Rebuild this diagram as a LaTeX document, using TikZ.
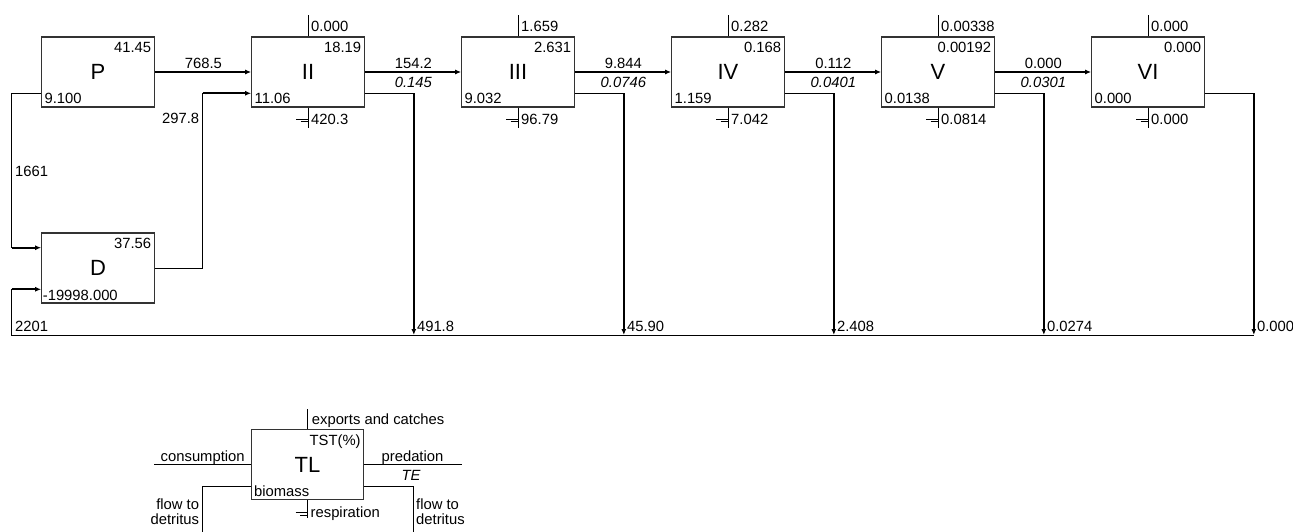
\documentclass[tikz,border=0pt]{standalone}
\usepackage{fontspec}
\setmainfont{Liberation Sans}
\usetikzlibrary{arrows.meta,calc}
\tikzset{
 box/.style={draw=black!80, line width=1.2pt, minimum width=112.5pt, minimum height=70pt, inner sep=0pt, font=\fontsize{22}{24}\selectfont},
 num/.style={inner sep=0pt, font=\fontsize{14.8}{17}\selectfont},
 inum/.style={inner sep=0pt, font=\fontsize{14.8}{17}\selectfont\itshape},
 thinln/.style={line width=1pt},
 flow/.style={line width=2pt, -{Latex[length=6pt,width=5pt]}},
 det/.style={line width=2.4pt, -{Latex[length=6pt,width=5pt]}},
}
\begin{document}
\begin{tikzpicture}[x=1pt,y=-1pt]
\useasboundingbox (0,0) rectangle (1293,532);
\fill[white] (0,0) rectangle (1293,532);
% boxes
\node[box] (P) at (98,72) {P};
\node[box] (II) at (308,72) {II};
\node[box] (III) at (518,72) {III};
\node[box] (IV) at (728,72) {IV};
\node[box] (V) at (938,72) {V};
\node[box] (VI) at (1148,72) {VI};
\node[box] (D) at (98,268) {D};
\node[box] (TL) at (307.5,464.7) {TL};
% P labels
\node[num, anchor=base east] at ($(P.north east)+(-3.5,16.3)$) {41.45};
\node[num, anchor=base west] at ($(P.south west)+(3.3,-4.3)$) {9.100};
\node[num, anchor=base east] at ($(D.north east)+(-3.5,16.3)$) {37.56};
\node[num, anchor=base west] at ($(D.south west)+(1.5,-3.5)$) {-19998.000};
% trophic boxes labels
\foreach \X/\ex/\tst/\bio/\res in {II/0.000/18.19/11.06/420.3, III/1.659/2.631/9.032/96.79, IV/0.282/0.168/1.159/7.042, V/0.00338/0.00192/0.0138/0.0814, VI/0.000/0.000/0.000/0.000}{
 \node[num, anchor=base east] at ($(\X.north east)+(-3.5,16.3)$) {\tst};
 \node[num, anchor=base west] at ($(\X.south west)+(3.3,-4.3)$) {\bio};
 \draw[thinln] (\X.north) -- ++(0,-21);
 \node[num, anchor=base west] at ($(\X.north)+(3,-4.7)$) {\ex};
 \draw[thinln] (\X.south) -- ++(0,20);
 \draw[thinln] ($(\X.south)+(-12,12)$) -- ++(12,0);
 \draw[thinln] ($(\X.south)+(-7.5,14.3)$) -- ++(7.5,0);
 \node[num, anchor=base west] at ($(\X.south)+(3,17)$) {\res};
}
% flows between boxes
\draw[flow] (P.east) -- (II.west);
\node[num, anchor=base] at ($(P.east)+(48.5,-3.7)$) {768.5};
\foreach \a/\b/\f/\te in {II/III/154.2/0.145, III/IV/9.844/0.0746, IV/V/0.112/0.0401, V/VI/0.000/0.0301}{
 \draw[flow] (\a.east) -- (\b.west);
 \node[num, anchor=base] at ($(\a.east)+(48.5,-3.7)$) {\f};
 \node[inum, anchor=base] at ($(\a.east)+(48.5,15.7)$) {\te};
}
% detritus flows
\coordinate (bot) at (0,335);
\foreach \X/\dv in {II/491.8, III/45.90, IV/2.408, V/0.0274, VI/0.000}{
 \coordinate (d\X) at ($(\X.east)+(49,21.3)$);
 \draw[thinln] ($(\X.east)+(0,21.3)$) -- (d\X);
 \draw[det] (d\X) -- (d\X |- bot);
 \node[num, anchor=base west] at ($(d\X |- bot)+(3,-4)$) {\dv};
}
% P to D
\coordinate (pa) at ($(P.west)+(0,21.3)$);
\coordinate (pb) at (11.7,93.3);
\coordinate (pc) at (11.7,247.7);
\coordinate (Din1) at ($(D.west)+(0,-20.3)$);
\draw[thinln] (pa) -- (pb) -- (pc);
\draw[flow] (pc) -- (Din1);
\node[num, anchor=base west] at (15,176) {1661};
% return to D
\coordinate (qa) at (11.7,335);
\coordinate (qb) at (11.7,289.3);
\coordinate (Din2) at ($(D.west)+(0,21.3)$);
\draw[thinln] (dVI |- bot) -- (qa) -- (qb);
\draw[flow] (qb) -- (Din2);
\node[num, anchor=base west] at (15,331.7) {2201};
% D to II
\coordinate (ra) at (202.7,268);
\coordinate (rb) at (202.7,93.3);
\coordinate (IIin) at ($(II.west)+(0,21.3)$);
\draw[thinln] (D.east) -- (ra) -- (rb);
\draw[flow] (rb) -- (IIin);
\node[num, anchor=base east] at (199.3,124) {297.8};
% legend
\node[num, anchor=base east] at ($(TL.north east)+(-3.5,16.3)$) {TST(\%)};
\node[num, anchor=base west] at ($(TL.south west)+(3.3,-4.3)$) {biomass};
\draw[thinln] (TL.north) -- ++(0,-20);
\node[num, anchor=base west] at (311.7,424.5) {exports and catches};
\coordinate (ca) at (154,464.7);
\draw[thinln] (ca) -- (TL.west);
\node[num, anchor=base] at (202.7,461) {consumption};
\coordinate (pe) at (461.7,464.7);
\draw[thinln] (TL.east) -- (pe);
\node[num, anchor=base] at (412.5,461) {predation};
\node[inum, anchor=base] at (411,480) {TE};
\coordinate (fl) at (202.7,532);
\coordinate (fr) at (413.3,532);
\draw[thinln] ($(TL.west)+(0,21.3)$) -| (fl);
\draw[thinln] ($(TL.east)+(0,21.3)$) -| (fr);
\node[num, anchor=base east] at (199.3,509.3) {flow to};
\node[num, anchor=base east] at (199.3,524) {detritus};
\node[num, anchor=base west] at (416,509.3) {flow to};
\node[num, anchor=base west] at (416,524) {detritus};
\draw[thinln] (TL.south) -- ++(0,18);
\draw[thinln] ($(TL.south)+(-12,12.5)$) -- ++(12,0);
\draw[thinln] ($(TL.south)+(-7.5,14.8)$) -- ++(7.5,0);
\node[num, anchor=base west] at ($(TL.south)+(3,17)$) {respiration};
\end{tikzpicture}
\end{document}
